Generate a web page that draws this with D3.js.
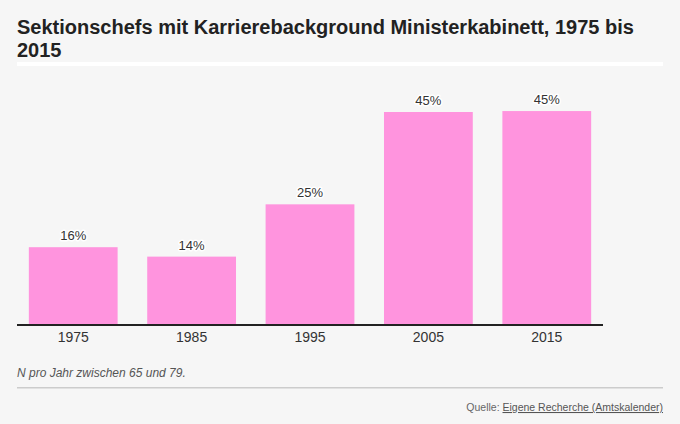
<!DOCTYPE html>
<html>
<head>
<meta charset="utf-8">
<script src="https://cdn.jsdelivr.net/npm/d3@7"></script>
<style>
  html, body { margin: 0; padding: 0; background: #f6f6f6; }
  svg { display: block; font-family: "Liberation Sans", Arial, sans-serif; }
</style>
</head>
<body>
<svg id="chart" width="680" height="424"></svg>
<script>
const titleLines = ["Sektionschefs mit Karrierebackground Ministerkabinett, 1975 bis", "2015"];
const categories = ["1975", "1985", "1995", "2005", "2015"];
const values = [16.3, 14.3, 25.4, 45.0, 45.2];
const valueLabels = ["16%", "14%", "25%", "45%", "45%"];
const note = "N pro Jahr zwischen 65 und 79.";
const sourcePrefix = "Quelle: ";
const sourceLink = "Eigene Recherche (Amtskalender)";

const svg = d3.select("#chart");
const W = 680, H = 424;

svg.append("rect").attr("width", W).attr("height", H).attr("fill", "#f6f6f6");

// Title
const title = svg.append("text")
  .attr("x", 17).attr("y", 34)
  .attr("font-size", 20).attr("font-weight", "bold").attr("fill", "#222");
titleLines.forEach((t, i) => {
  title.append("tspan").attr("x", 17).attr("dy", i === 0 ? 0 : 23).text(t);
});

// White rule under title
svg.append("rect").attr("x", 17).attr("y", 62).attr("width", 646).attr("height", 4).attr("fill", "#ffffff");

// Scales
const x = d3.scaleBand().domain(categories).range([17, 603]).paddingInner(0.25).paddingOuter(0.1);
const y = d3.scaleLinear().domain([0, 45]).range([324, 112]);

// Bars
svg.append("g").selectAll("rect")
  .data(categories)
  .join("rect")
  .attr("x", d => x(d))
  .attr("width", x.bandwidth())
  .attr("y", (d, i) => y(values[i]))
  .attr("height", (d, i) => y(0) - y(values[i]))
  .attr("fill", "#ff94de");

// Value labels
svg.append("g").selectAll("text")
  .data(categories)
  .join("text")
  .attr("x", d => x(d) + x.bandwidth() / 2)
  .attr("y", (d, i) => y(values[i]) - 7)
  .attr("text-anchor", "middle")
  .attr("font-size", 13)
  .attr("fill", "#333")
  .attr("stroke", "#ffffff").attr("stroke-width", 3).attr("stroke-linejoin", "round")
  .attr("paint-order", "stroke")
  .text((d, i) => valueLabels[i]);

// X axis
const xAxis = d3.axisBottom(x).tickSize(0).tickPadding(0);
const gx = svg.append("g").attr("transform", "translate(0,324)").call(xAxis);
gx.select(".domain").remove();
gx.selectAll("text")
  .attr("font-family", "'Liberation Sans', Arial, sans-serif")
  .attr("font-size", 14).attr("fill", "#333")
  .attr("dy", 0).attr("y", 18);
svg.append("line").attr("x1", 17).attr("x2", 603).attr("y1", 325).attr("y2", 325)
  .attr("stroke", "#222").attr("stroke-width", 2);

// Note
svg.append("text").attr("x", 17).attr("y", 377)
  .attr("font-size", 12).attr("font-style", "italic").attr("fill", "#555").text(note);

// Gray rule
svg.append("rect").attr("x", 17).attr("y", 387).attr("width", 646).attr("height", 1.5).attr("fill", "#cccccc");

// Source
const src = svg.append("text").attr("x", 663).attr("y", 411).attr("text-anchor", "end")
  .attr("font-size", 10.5).attr("fill", "#666");
src.append("tspan").text(sourcePrefix);
src.append("tspan").attr("text-decoration", "underline").attr("fill", "#555").text(sourceLink);
</script>
</body>
</html>
